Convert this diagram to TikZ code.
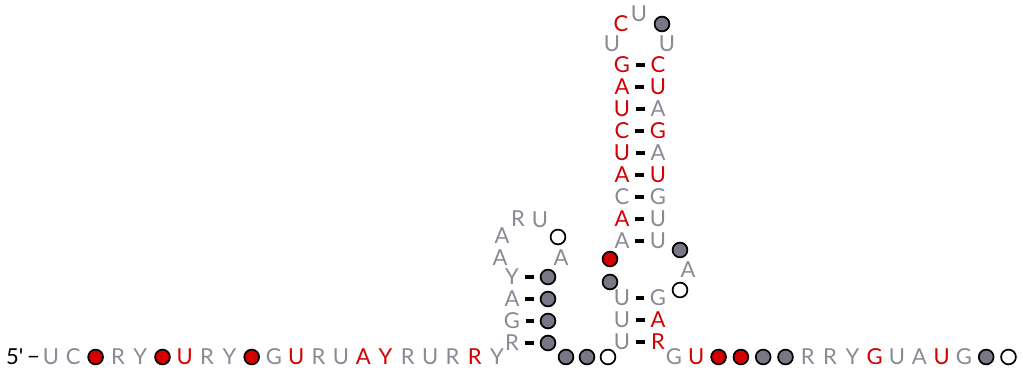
\documentclass[tikz,border=0pt]{standalone}
\usepackage{fontspec}
\setmainfont{Lato}
\usepackage{xcolor}
\usepackage{tikz}
\definecolor{ntgray}{RGB}{138,137,150}
\definecolor{ntred}{RGB}{212,0,0}
\definecolor{ckgray}{RGB}{122,118,134}

\begin{document}
\begin{tikzpicture}[
    x=1pt, y=-1pt,
    font=\fontsize{22}{22}\selectfont,
    nt/.style={text=ntgray, inner sep=0pt, minimum width=14pt},
    nr/.style={nt, text=ntred},
    ck/.style={circle, draw=black, line width=1.7pt, minimum size=14.8pt, inner sep=0pt},
    cg/.style={ck, fill=ckgray},
    cr/.style={ck, fill=ntred},
    cw/.style={ck, fill=white},
    bp/.style={line width=3.5pt, shorten <=5.5pt, shorten >=5.5pt}
]

% --- PARAMETER ---
\def\yb{357}   % Grundlinie
\def\xl{622}   % linke Spalte grosser Stamm
\def\xr{658}   % rechte Spalte grosser Stamm

\useasboundingbox (0,0) rectangle (1023,375);

% --- 5' ENDE ---
\node[anchor=east, inner sep=0pt, text=black] (p5) at (40,\yb) {5\textquotesingle\,−};
\node[nt] (n1) at (51,\yb) {U};
\node[nt] (n2) at (73.3,\yb) {C};
\node[cr] (n3) at (95.6,\yb) {};
\node[nt] (n4) at (117.9,\yb) {R};
\node[nt] (n5) at (140.2,\yb) {Y};
\node[cr] (n6) at (162.5,\yb) {};
\node[nr] (n7) at (184.8,\yb) {U};
\node[nt] (n8) at (207.1,\yb) {R};
\node[nt] (n9) at (229.4,\yb) {Y};
\node[cr] (n10) at (251.7,\yb) {};
\node[nt] (n11) at (274,\yb) {G};
\node[nr] (n12) at (296.3,\yb) {U};
\node[nt] (n13) at (318.6,\yb) {R};
\node[nt] (n14) at (340.9,\yb) {U};
\node[nr] (n15) at (363.2,\yb) {A};
\node[nr] (n16) at (385.5,\yb) {Y};
\node[nt] (n17) at (407.8,\yb) {R};
\node[nt] (n18) at (430.1,\yb) {U};
\node[nt] (n19) at (452.4,\yb) {R};
\node[nr] (n20) at (474.7,\yb) {R};
\node[nt] (n21) at (497,\yb) {Y};

% --- KLEINE HAARNADEL ---
\node[nt] (n22) at (512,343) {R};
\node[nt] (n23) at (512,321) {G};
\node[nt] (n24) at (512,299) {A};
\node[nt] (n25) at (512,277) {Y};
\node[nt] (n26) at (500,258) {A};
\node[nt] (n27) at (502,236) {A};
\node[nt] (n28) at (518,219) {R};
\node[nt] (n29) at (540,220) {U};
\node[cw] (n30) at (558,237) {};
\node[nt] (n31) at (561,258) {A};
\node[cg] (n32) at (548,277) {};
\node[cg] (n33) at (548,299) {};
\node[cg] (n34) at (548,321) {};
\node[cg] (n35) at (548,343) {};
\draw[bp] (n22) -- (n35);
\draw[bp] (n23) -- (n34);
\draw[bp] (n24) -- (n33);
\draw[bp] (n25) -- (n32);

% --- VERBINDUNG ---
\node[cg] (n36) at (566,\yb) {};
\node[cg] (n37) at (587,\yb) {};
\node[cw] (n38) at (608,\yb) {};

% --- GROSSE HAARNADEL, LINKS ---
\node[nt] (n39) at (\xl,342) {U};
\node[nt] (n40) at (\xl,320) {U};
\node[nt] (n41) at (\xl,298) {U};
\node[cg] (n42) at (610,282) {};
\node[cr] (n43) at (610,259) {};
\node[nt] (n44) at (\xl,241) {A};
\node[nr] (n45) at (\xl,219) {A};
\node[nt] (n46) at (\xl,197) {C};
\node[nr] (n47) at (\xl,175) {A};
\node[nr] (n48) at (\xl,153) {U};
\node[nr] (n49) at (\xl,131) {C};
\node[nr] (n50) at (\xl,109) {U};
\node[nr] (n51) at (\xl,87) {A};
\node[nr] (n52) at (\xl,65) {G};

% Schleife oben
\node[nt] (n53) at (612,44) {U};
\node[nr] (n54) at (621,24) {C};
\node[nt] (n55) at (639,14) {U};
\node[cg] (n56) at (662,24) {};
\node[nt] (n57) at (667,44) {U};

% --- GROSSE HAARNADEL, RECHTS ---
\node[nr] (n58) at (\xr,65) {C};
\node[nr] (n59) at (\xr,87) {U};
\node[nt] (n60) at (\xr,109) {A};
\node[nr] (n61) at (\xr,131) {G};
\node[nt] (n62) at (\xr,153) {A};
\node[nr] (n63) at (\xr,175) {U};
\node[nt] (n64) at (\xr,197) {G};
\node[nt] (n65) at (\xr,219) {U};
\node[nt] (n66) at (\xr,241) {U};
\node[cg] (n67) at (680,250) {};
\node[nt] (n68) at (688,270) {A};
\node[cw] (n69) at (680,290) {};
\node[nt] (n70) at (\xr,298) {G};
\node[nr] (n71) at (\xr,320) {A};
\node[nr] (n72) at (\xr,342) {R};

% Basenpaare
\draw[bp] (n39) -- (n72);
\draw[bp] (n40) -- (n71);
\draw[bp] (n41) -- (n70);
\draw[bp] (n44) -- (n66);
\draw[bp] (n45) -- (n65);
\draw[bp] (n46) -- (n64);
\draw[bp] (n47) -- (n63);
\draw[bp] (n48) -- (n62);
\draw[bp] (n49) -- (n61);
\draw[bp] (n50) -- (n60);
\draw[bp] (n51) -- (n59);
\draw[bp] (n52) -- (n58);

% --- 3' ENDE ---
\node[nt] (n73) at (674,\yb) {G};
\node[nr] (n74) at (696.3,\yb) {U};
\node[cr] (n75) at (718.6,\yb) {};
\node[cr] (n76) at (740.9,\yb) {};
\node[cg] (n77) at (763.2,\yb) {};
\node[cg] (n78) at (785.5,\yb) {};
\node[nt] (n79) at (807.8,\yb) {R};
\node[nt] (n80) at (830.1,\yb) {R};
\node[nt] (n81) at (852.4,\yb) {Y};
\node[nr] (n82) at (874.7,\yb) {G};
\node[nt] (n83) at (897,\yb) {U};
\node[nt] (n84) at (919.3,\yb) {A};
\node[nr] (n85) at (941.6,\yb) {U};
\node[nt] (n86) at (963.9,\yb) {G};
\node[cg] (n87) at (986.2,\yb) {};
\node[cw] (n88) at (1008.5,\yb) {};
\end{tikzpicture}
\end{document}
